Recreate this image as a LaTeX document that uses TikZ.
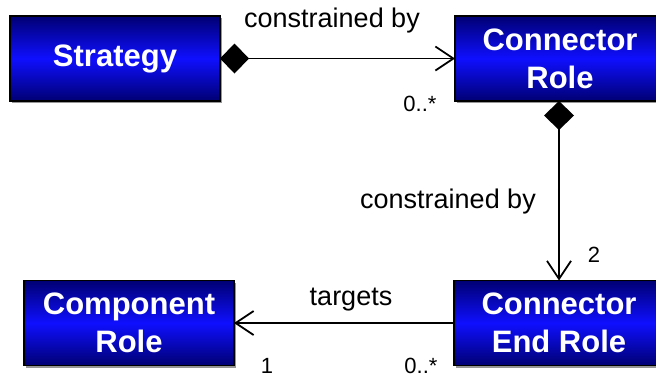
\documentclass[tikz,border=0pt]{standalone}
\usepackage{fontspec}
\setmainfont{Liberation Sans}
\usetikzlibrary{arrows.meta,shadows}

\definecolor{boxdark}{RGB}{0,0,115}
\definecolor{boxlight}{RGB}{15,15,255}
\definecolor{shadowgrey}{RGB}{150,150,150}

\tikzset{
  cls/.style={draw=black, line width=1.6pt,
    top color=boxdark, bottom color=boxdark, middle color=boxlight,
    minimum width=210pt, minimum height=85pt, inner sep=0pt, outer sep=0pt,
    align=center, text=white,
    font=\fontsize{31}{38}\selectfont\bfseries,
    drop shadow={shadow xshift=2pt, shadow yshift=-2pt, fill=shadowgrey, opacity=1}},
  assoc/.style={draw=black, line width=1.8pt},
  owns/.style={{Diamond[length=29pt,width=30pt]}-{Straight Barb[length=18pt,width=24pt]}},
  refs/.style={-{Straight Barb[length=18pt,width=24pt]}},
  rolelbl/.style={anchor=base, inner sep=0pt, font=\fontsize{27}{31}\selectfont},
  multlbl/.style={anchor=base, inner sep=0pt, font=\fontsize{22}{26}\selectfont}
}

\begin{document}
\begin{tikzpicture}[x=1pt,y=-1pt]
  \clip (0,0) rectangle (656,376);
  \useasboundingbox (0,0) rectangle (656,376);

  % classes
  \node[cls] (strat)  at (115,58.5)  {Strategy};
  \node[cls] (crole)  at (560,58.5)  {Connector\\Role};
  \node[cls] (comp)   at (129,323)   {Component\\Role};
  \node[cls] (cerole) at (559,323)   {Connector\\End Role};

  % associations
  \draw[assoc, owns] (strat.east) -- (crole.west);
  \draw[assoc, owns] (crole.south -| cerole.north) -- (cerole.north);
  \draw[assoc, refs] (cerole.west) -- (comp.east);

  % association names
  \node[rolelbl] (l1) at (332,27)  {constrained by};
  \node[rolelbl] (l2) at (448,208) {constrained by};
  \node[rolelbl] (l3) at (351,305) {targets};

  % multiplicities
  \node[multlbl] (m1) at (420,111) {0..*};
  \node[multlbl] (m2) at (594,262) {2};
  \node[multlbl] (m3) at (267,373) {1};
  \node[multlbl] (m4) at (421,373) {0..*};
\end{tikzpicture}
\end{document}
